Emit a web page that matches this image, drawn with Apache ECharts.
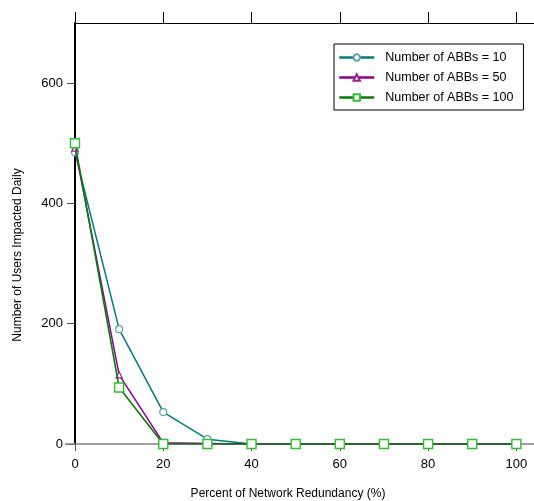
<!DOCTYPE html>
<html><head><meta charset="utf-8">
<script src="https://cdn.jsdelivr.net/npm/echarts@6/dist/echarts.min.js"></script>
<style>html,body{margin:0;padding:0;background:#fff}#c{width:534px;height:501px}</style>
</head><body><div id="c"></div>
<script>
const xValues = [0,10,20,30,40,50,60,70,80,90,100];
const abb10 = [485,191,53,8,0,0,0,0,0,0,0];
const abb50 = [492,115,2,1,0,0,0,0,0,0,0];
const abb100 = [500,94,0,0,0,0,0,0,0,0,0];
const seriesNames = ['Number of ABBs = 10','Number of ABBs = 50','Number of ABBs = 100'];
const xTitle = 'Percent of Network Redundancy (%)';
const yTitle = 'Number of Users Impacted Daily';

const pair = (arr) => xValues.map((x,i)=>[x,arr[i]]);
const font = 'Liberation Sans, Arial, sans-serif';
const chart = echarts.init(document.getElementById('c'), null, {renderer:'canvas'});
chart.setOption({
  animation:false,
  backgroundColor:'#fff',
  grid:{left:75,right:0,top:23,bottom:57,containLabel:false},
  legend:{
    orient:'vertical', left:334, top:44,
    padding:[7,10,6,4], itemGap:7, itemWidth:35, itemHeight:8,
    borderColor:'#000', borderWidth:1, backgroundColor:'#fff',
    lineStyle:{width:2.5},
    textStyle:{fontFamily:font,fontSize:12.5,color:'#000',padding:[0,0,0,6]},
    data:seriesNames
  },
  xAxis:[{
    type:'value', min:0, max:104, interval:20, position:'bottom',
    axisLine:{show:true,onZero:false,lineStyle:{color:'#808080',width:1.5}},
    axisTick:{show:true,length:7,lineStyle:{color:'#555'}},
    axisLabel:{fontFamily:font,fontSize:13,color:'#000',margin:14,showMaxLabel:false},
    splitLine:{show:false}
  },{
    type:'value', min:0, max:104, interval:20, position:'top',
    axisLine:{show:true,onZero:false,lineStyle:{color:'#000',width:1}},
    axisTick:{show:true,length:11,lineStyle:{color:'#000'}},
    axisLabel:{show:false},
    splitLine:{show:false}
  }],
  yAxis:{
    type:'value', min:0, max:700, interval:200,
    axisLine:{show:true,onZero:false,lineStyle:{color:'#000',width:2}},
    axisTick:{show:true,length:8,lineStyle:{color:'#555'}},
    axisLabel:{fontFamily:font,fontSize:13,color:'#000',margin:12,showMaxLabel:false},
    splitLine:{show:false}
  },
  graphic:[
    {type:'line',shape:{x1:65,y1:444,x2:75,y2:444},style:{stroke:'#808080',lineWidth:1.5},z:1},
    {type:'text',x:288,y:494,style:{text:xTitle,fontFamily:font,fontSize:12,fill:'#000',textAlign:'center',textVerticalAlign:'middle'}},
    {type:'text',x:18,y:255,rotation:Math.PI/2,style:{text:yTitle,fontFamily:font,fontSize:12,fill:'#000',textAlign:'center',textVerticalAlign:'middle'}}
  ],
  series:[
    {name:seriesNames[0],type:'line',data:pair(abb10),symbol:'circle',symbolSize:7,
     lineStyle:{color:'#007b7b',width:1.5},itemStyle:{color:'#fff',borderColor:'#5aa5a5',borderWidth:1.2},z:2},
    {name:seriesNames[1],type:'line',data:pair(abb50),symbol:'triangle',symbolSize:6,
     lineStyle:{color:'#8b008b',width:1.5},itemStyle:{color:'#fff',borderColor:'#9a209a',borderWidth:1.2},z:3},
    {name:seriesNames[2],type:'line',data:pair(abb100),symbol:'rect',symbolSize:9,
     lineStyle:{color:'#0a7a0a',width:1.6},itemStyle:{color:'#fff',borderColor:'#2fbf2f',borderWidth:1.4},z:4}
  ]
});
</script></body></html>
